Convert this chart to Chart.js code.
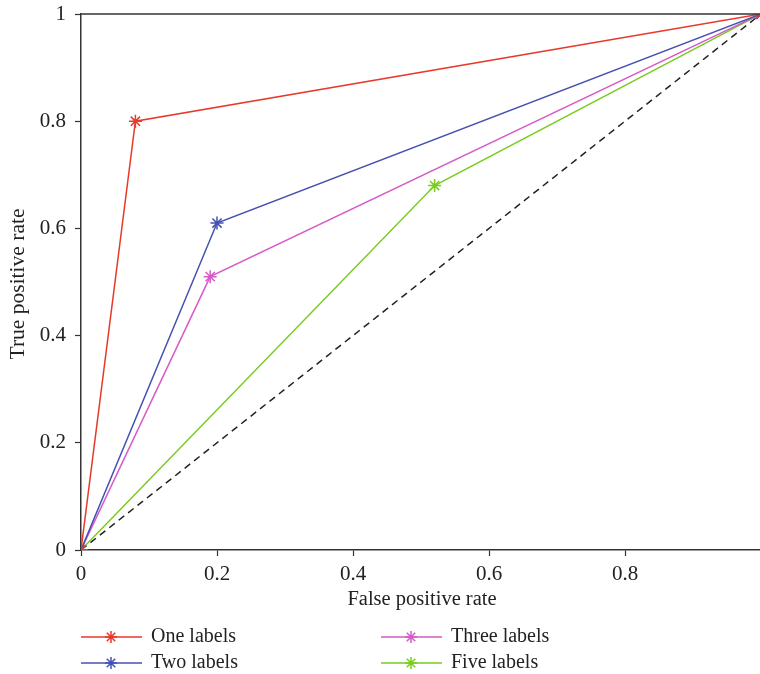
<!DOCTYPE html>
<html>
<head>
<meta charset="utf-8">
<script src="https://cdn.jsdelivr.net/npm/chart.js@4"></script>
<style>
  html, body { margin: 0; padding: 0; background: #fff; overflow: hidden; width: 760px; height: 674px; }
  .wrap { position: relative; width: 769px; height: 674px; }
</style>
</head>
<body>
<div class="wrap"><canvas id="rocChart"></canvas></div>
<script>
// series names + colours
const seriesNames = ['One labels', 'Two labels', 'Three labels', 'Five labels'];
const seriesColors = ['#e8392b', '#4551b2', '#d65ac7', '#78cc1e'];

// false positive rate / true positive rate for each curve
const fprOne = [0, 0.08, 1];
const tprOne = [0, 0.80, 1];
const fprTwo = [0, 0.20, 1];
const tprTwo = [0, 0.61, 1];
const fprThree = [0, 0.19, 1];
const tprThree = [0, 0.51, 1];
const fprFive = [0, 0.52, 1];
const tprFive = [0, 0.68, 1];

// chance line
const fprChance = [0, 1];
const tprChance = [0, 1];

const xTicks = [0, 0.2, 0.4, 0.6, 0.8];
const yTicks = [0, 0.2, 0.4, 0.6, 0.8, 1];

const fontFamily = '"Liberation Serif", "Times New Roman", serif';
const textColor = '#222';

function toPoints(xs, ys) {
  return xs.map((x, i) => ({ x: x, y: ys[i] }));
}

const curveX = [fprOne, fprTwo, fprThree, fprFive];
const curveY = [tprOne, tprTwo, tprThree, tprFive];

const datasets = seriesNames.map((name, i) => ({
  label: name,
  data: toPoints(curveX[i], curveY[i]),
  borderColor: seriesColors[i],
  backgroundColor: seriesColors[i],
  borderWidth: 1.5,
  pointStyle: 'star',
  pointRadius: 6.5,
  pointBorderWidth: 1.5,
  pointBorderColor: seriesColors[i],
  tension: 0,
}));

datasets.push({
  label: 'chance',
  data: toPoints(fprChance, tprChance),
  borderColor: '#222',
  borderWidth: 1.5,
  borderDash: [7, 5],
  pointStyle: 'star',
  pointRadius: 6.5,
  pointBorderWidth: 1.5,
  pointBorderColor: '#222',
});

// draws top border, axis titles and the two-column legend
const extrasPlugin = {
  id: 'extras',
  afterDraw(chart) {
    const ctx = chart.ctx;
    const area = chart.chartArea;
    ctx.save();

    // top border line
    ctx.strokeStyle = '#333';
    ctx.lineWidth = 1.5;
    ctx.beginPath();
    ctx.moveTo(area.left, area.top);
    ctx.lineTo(area.right, area.top);
    ctx.stroke();

    ctx.fillStyle = textColor;
    ctx.textAlign = 'center';
    ctx.textBaseline = 'middle';
    ctx.font = '20.5px ' + fontFamily;
    ctx.fillText('False positive rate', 422, 600);

    ctx.save();
    ctx.font = '21.5px ' + fontFamily;
    ctx.translate(18, 284);
    ctx.rotate(-Math.PI / 2);
    ctx.fillText('True positive rate', 0, 0);
    ctx.restore();

    // legend
    ctx.font = '20px ' + fontFamily;
    const colX = [81, 381];
    const rowY = [637, 663];
    seriesNames.forEach((name, i) => {
      const x0 = colX[i < 2 ? 0 : 1];
      const y0 = rowY[i % 2];
      const color = seriesColors[i];
      ctx.strokeStyle = color;
      ctx.lineWidth = 1.5;
      ctx.beginPath();
      ctx.moveTo(x0, y0);
      ctx.lineTo(x0 + 61, y0);
      ctx.stroke();
      Chart.helpers.drawPoint(ctx, { pointStyle: 'star', radius: 6, borderWidth: 1.4 }, x0 + 30, y0);
      ctx.fillStyle = textColor;
      ctx.textAlign = 'left';
      ctx.fillText(name, x0 + 70, y0);
    });

    ctx.restore();
  },
};

new Chart(document.getElementById('rocChart'), {
  type: 'line',
  data: { datasets: datasets },
  options: {
    responsive: true,
    maintainAspectRatio: false,
    animation: false,
    layout: { padding: { top: 14, right: 3, bottom: 0, left: 0 } },
    plugins: {
      legend: { display: false },
      tooltip: { enabled: false },
    },
    scales: {
      x: {
        type: 'linear',
        min: 0,
        max: 1,
        afterBuildTicks: (scale) => {
          scale.ticks = xTicks.map((v) => ({ value: v }));
        },
        afterFit: (scale) => {
          scale.height = 124;
          scale.paddingLeft = 0;
          scale.paddingRight = 0;
        },
        ticks: {
          color: textColor,
          font: { family: fontFamily, size: 21 },
          padding: 6,
          maxRotation: 0,
          callback: (v) => String(v),
        },
        grid: {
          drawOnChartArea: false,
          drawTicks: true,
          tickLength: 6,
          tickColor: '#333',
          tickWidth: 1.2,
        },
        border: { display: true, color: '#333', width: 1.5 },
      },
      y: {
        type: 'linear',
        min: 0,
        max: 1,
        afterBuildTicks: (scale) => {
          scale.ticks = yTicks.map((v) => ({ value: v }));
        },
        afterFit: (scale) => {
          scale.width = 81;
          scale.paddingTop = 0;
          scale.paddingBottom = 0;
        },
        ticks: {
          color: textColor,
          font: { family: fontFamily, size: 21 },
          padding: 9,
          callback: (v) => String(v),
        },
        grid: {
          drawOnChartArea: false,
          drawTicks: true,
          tickLength: 6,
          tickColor: '#333',
          tickWidth: 1.2,
        },
        border: { display: true, color: '#333', width: 1.5 },
      },
    },
  },
  plugins: [extrasPlugin],
});
</script>
</body>
</html>
